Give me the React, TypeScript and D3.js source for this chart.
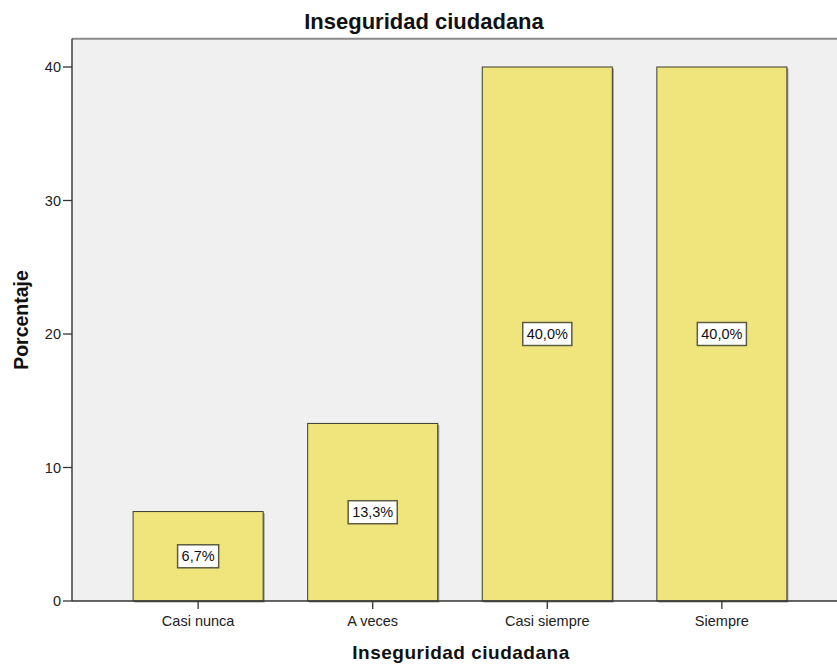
import React from "react";
import * as d3 from "d3";

const categories = ["Casi nunca", "A veces", "Casi siempre", "Siempre"];
const values = [6.7, 13.3, 40.0, 40.0];
const valueLabels = ["6,7%", "13,3%", "40,0%", "40,0%"];
const yTicks = [0, 10, 20, 30, 40];

const W = 837;
const H = 666;
const plotLeft = 72;
const plotTop = 38.7;
const plotBottom = 601;
const FONT = "'Liberation Sans', Arial, sans-serif";

export default function App() {
  const x = d3
    .scaleBand<string>()
    .domain(categories)
    .range([plotLeft, 848])
    .paddingInner(0.255)
    .paddingOuter(0.35);
  const y = d3.scaleLinear().domain([0, 42.12]).range([plotBottom, plotTop]);

  const measure = (s: string) => {
    let w = 0;
    for (const ch of s) {
      if (ch === ",") w += 0.278;
      else if (ch === "%") w += 0.889;
      else w += 0.556;
    }
    return w * 14.5;
  };

  return (
    <svg
      width={W}
      height={H}
      style={{ position: "absolute", left: 0, top: 0, display: "block" }}
      fontFamily={FONT}
    >
      <rect x={0} y={0} width={W} height={H} fill="#ffffff" />
      <rect
        x={plotLeft}
        y={plotTop}
        width={W - plotLeft}
        height={plotBottom - plotTop}
        fill="#f0f0f0"
      />
      <line x1={plotLeft} x2={W} y1={plotTop} y2={plotTop} stroke="#8a8a8a" strokeWidth={2} />

      {categories.map((c, i) => {
        const bx = x(c)!;
        const bw = x.bandwidth();
        const by = y(values[i]);
        const bh = plotBottom - by;
        return (
          <g key={c}>
            <rect x={bx + 1.5} y={by + 1.5} width={bw} height={bh} fill="#9a9a9a" />
            <rect
              x={bx}
              y={by}
              width={bw}
              height={bh}
              fill="#f0e57d"
              stroke="#3c3c30"
              strokeWidth={1}
            />
          </g>
        );
      })}

      {categories.map((c, i) => {
        const cx = x(c)! + x.bandwidth() / 2;
        const cy = (y(values[i]) + plotBottom) / 2;
        const tw = measure(valueLabels[i]);
        const bw = tw + 8;
        const bh = 23;
        return (
          <g key={c + "-lbl"}>
            <rect
              x={cx - bw / 2}
              y={cy - bh / 2}
              width={bw}
              height={bh}
              fill="#ffffff"
              stroke="#5c5c40"
              strokeWidth={1.5}
            />
            <text x={cx} y={cy} dy="0.36em" textAnchor="middle" fontSize={14.5} fill="#111">
              {valueLabels[i]}
            </text>
          </g>
        );
      })}

      <line x1={plotLeft} x2={plotLeft} y1={plotTop} y2={plotBottom} stroke="#4a4a4a" strokeWidth={1.6} />
      {yTicks.map((t) => (
        <g key={t}>
          <line x1={plotLeft - 9} x2={plotLeft} y1={y(t)} y2={y(t)} stroke="#333" strokeWidth={1.3} />
          <text x={plotLeft - 11} y={y(t)} dy="0.36em" textAnchor="end" fontSize={14.5} fill="#222">
            {t}
          </text>
        </g>
      ))}

      <line x1={plotLeft} x2={W} y1={plotBottom} y2={plotBottom} stroke="#333" strokeWidth={1.6} />
      {categories.map((c) => {
        const cx = x(c)! + x.bandwidth() / 2;
        return (
          <g key={c + "-tick"}>
            <line x1={cx} x2={cx} y1={plotBottom} y2={plotBottom + 8} stroke="#333" strokeWidth={1.3} />
            <text x={cx} y={626} textAnchor="middle" fontSize={14.5} fill="#222">
              {c}
            </text>
          </g>
        );
      })}

      <text x={424} y={29} textAnchor="middle" fontSize={22} fontWeight="bold" fill="#111">
        Inseguridad ciudadana
      </text>
      <text
        x={461}
        y={659}
        textAnchor="middle"
        fontSize={19}
        fontWeight="bold"
        letterSpacing={0.5}
        fill="#111"
      >
        Inseguridad ciudadana
      </text>
      <text
        transform={`translate(28,320) rotate(-90)`}
        textAnchor="middle"
        fontSize={19.5}
        fontWeight="bold"
        fill="#111"
      >
        Porcentaje
      </text>
    </svg>
  );
}
